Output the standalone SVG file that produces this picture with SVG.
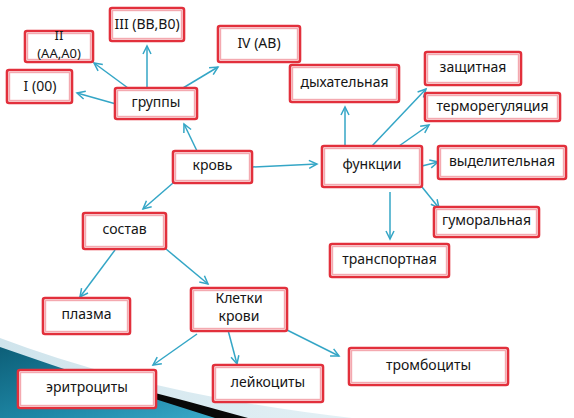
<svg xmlns="http://www.w3.org/2000/svg" width="574" height="418" viewBox="0 0 574 418">
<style>
.box{fill:#ffffff;stroke:#e2303c;stroke-width:2.6}
.inner{fill:none;stroke:#f4a9b0;stroke-width:1.4}
.t{font-family:"Noto Sans","DejaVu Sans",sans-serif;font-size:14px;fill:#151515;text-anchor:middle}
.t2{font-size:13px}
.c line{stroke:#34a6c6;stroke-width:1.5;marker-end:url(#ah)}
</style>
<defs>
<marker id="ah" markerUnits="userSpaceOnUse" markerWidth="12" markerHeight="12" refX="9" refY="5" orient="auto">
<path d="M1,1 L9,5 L1,9" fill="none" stroke="#34a6c6" stroke-width="1.5"/>
</marker>
<linearGradient id="teal" x1="0" y1="0" x2="1" y2="1">
<stop offset="0" stop-color="#0d5f78"/>
<stop offset="0.6" stop-color="#1f89a8"/>
<stop offset="1" stop-color="#3aa9c8"/>
</linearGradient>
<linearGradient id="pale" x1="0" y1="0" x2="1" y2="0">
<stop offset="0" stop-color="#cfe4ec"/>
<stop offset="1" stop-color="#e3f0f5"/>
</linearGradient>
</defs>
<rect width="574" height="418" fill="#ffffff"/>
<g id="decoration">
<path d="M0,338 Q150,395 352,418 L0,418 Z" fill="url(#pale)"/>
<path d="M0,356 Q120,382 248,418 L0,418 Z" fill="#080808"/>
<path d="M0,347 Q100,382 215,418 L0,418 Z" fill="url(#teal)"/>
</g>
<g id="connectors" class="c">
<line x1="116" y1="104" x2="77" y2="93"/>
<line x1="128" y1="88" x2="94" y2="63"/>
<line x1="147" y1="88" x2="147" y2="46"/>
<line x1="183" y1="88" x2="218" y2="67"/>
<line x1="197" y1="151" x2="184" y2="124"/>
<line x1="252" y1="167" x2="317" y2="164"/>
<line x1="345" y1="146" x2="345" y2="107"/>
<line x1="372" y1="146" x2="426" y2="89"/>
<line x1="399" y1="146" x2="429" y2="125"/>
<line x1="422" y1="166" x2="438" y2="162"/>
<line x1="422" y1="187" x2="439" y2="208"/>
<line x1="390" y1="192" x2="390" y2="239"/>
<line x1="173" y1="183" x2="143" y2="209"/>
<line x1="115" y1="250" x2="80" y2="297"/>
<line x1="166" y1="249" x2="208" y2="284"/>
<line x1="197" y1="334" x2="153" y2="365"/>
<line x1="228" y1="330" x2="237" y2="364"/>
<line x1="287" y1="330" x2="339" y2="356"/>
</g>
<g id="n-I"><rect class="box" x="7" y="70" width="65" height="33" rx="2"/><rect class="inner" x="9.5" y="72.5" width="60" height="28"/><text class="t" x="40" y="91">I (00)</text></g>
<g id="n-II"><rect class="box" x="25" y="31" width="68" height="31" rx="2"/><rect class="inner" x="27.5" y="33.5" width="63" height="26"/><text class="t t2" x="59" y="40">II</text><text class="t t2" x="59" y="58">(AA,A0)</text></g>
<g id="n-III"><rect class="box" x="110" y="8" width="74" height="33" rx="2"/><rect class="inner" x="112.5" y="10.5" width="69" height="28"/><text class="t" x="147" y="29">III (BB,B0)</text></g>
<g id="n-IV"><rect class="box" x="218" y="26" width="82" height="36" rx="2"/><rect class="inner" x="220.5" y="28.5" width="77" height="31"/><text class="t" x="259" y="48">IV (AB)</text></g>
<g id="n-gruppy"><rect class="box" x="115" y="88" width="82" height="31" rx="2"/><rect class="inner" x="117.5" y="90.5" width="77" height="26"/><text class="t" x="156" y="107">группы</text></g>
<g id="n-dyh"><rect class="box" x="290" y="65" width="109" height="37" rx="2"/><rect class="inner" x="292.5" y="67.5" width="104" height="32"/><text class="t" x="344.5" y="87">дыхательная</text></g>
<g id="n-zasch"><rect class="box" x="425" y="52" width="96" height="33" rx="2"/><rect class="inner" x="427.5" y="54.5" width="91" height="28"/><text class="t" x="473" y="72">защитная</text></g>
<g id="n-term"><rect class="box" x="425" y="93" width="135" height="28" rx="2"/><rect class="inner" x="427.5" y="95.5" width="130" height="23"/><text class="t" x="492.5" y="111">терморегуляция</text></g>
<g id="n-krov"><rect class="box" x="173" y="151" width="79" height="32" rx="2"/><rect class="inner" x="175.5" y="153.5" width="74" height="27"/><text class="t" x="212.5" y="170">кровь</text></g>
<g id="n-func"><rect class="box" x="322" y="146" width="100" height="41" rx="2"/><rect class="inner" x="324.5" y="148.5" width="95" height="36"/><text class="t" x="372" y="169">функции</text></g>
<g id="n-vydel"><rect class="box" x="438" y="146" width="128" height="33" rx="2"/><rect class="inner" x="440.5" y="148.5" width="123" height="28"/><text class="t" x="502" y="166">выделительная</text></g>
<g id="n-gumor"><rect class="box" x="434" y="207" width="105" height="30" rx="2"/><rect class="inner" x="436.5" y="209.5" width="100" height="25"/><text class="t" x="486.5" y="225">гуморальная</text></g>
<g id="n-transp"><rect class="box" x="330" y="244" width="119" height="33" rx="2"/><rect class="inner" x="332.5" y="246.5" width="114" height="28"/><text class="t" x="389.5" y="264">транспортная</text></g>
<g id="n-sostav"><rect class="box" x="83" y="213" width="83" height="36" rx="2"/><rect class="inner" x="85.5" y="215.5" width="78" height="31"/><text class="t" x="124.5" y="234">состав</text></g>
<g id="n-plazma"><rect class="box" x="43" y="298" width="87" height="36" rx="2"/><rect class="inner" x="45.5" y="300.5" width="82" height="31"/><text class="t" x="86.5" y="319">плазма</text></g>
<g id="n-kletki"><rect class="box" x="191" y="288" width="96" height="43" rx="2"/><rect class="inner" x="193.5" y="290.5" width="91" height="38"/><text class="t" x="239" y="303">Клетки</text><text class="t" x="239" y="321">крови</text></g>
<g id="n-eritr"><rect class="box" x="18" y="370" width="138" height="38" rx="2"/><rect class="inner" x="20.5" y="372.5" width="133" height="33"/><text class="t" x="87" y="392">эритроциты</text></g>
<g id="n-leik"><rect class="box" x="213" y="365" width="110" height="37" rx="2"/><rect class="inner" x="215.5" y="367.5" width="105" height="32"/><text class="t" x="268" y="387">лейкоциты</text></g>
<g id="n-tromb"><rect class="box" x="349" y="348" width="159" height="37" rx="2"/><rect class="inner" x="351.5" y="350.5" width="154" height="32"/><text class="t" x="428.5" y="370">тромбоциты</text></g>
</svg>
